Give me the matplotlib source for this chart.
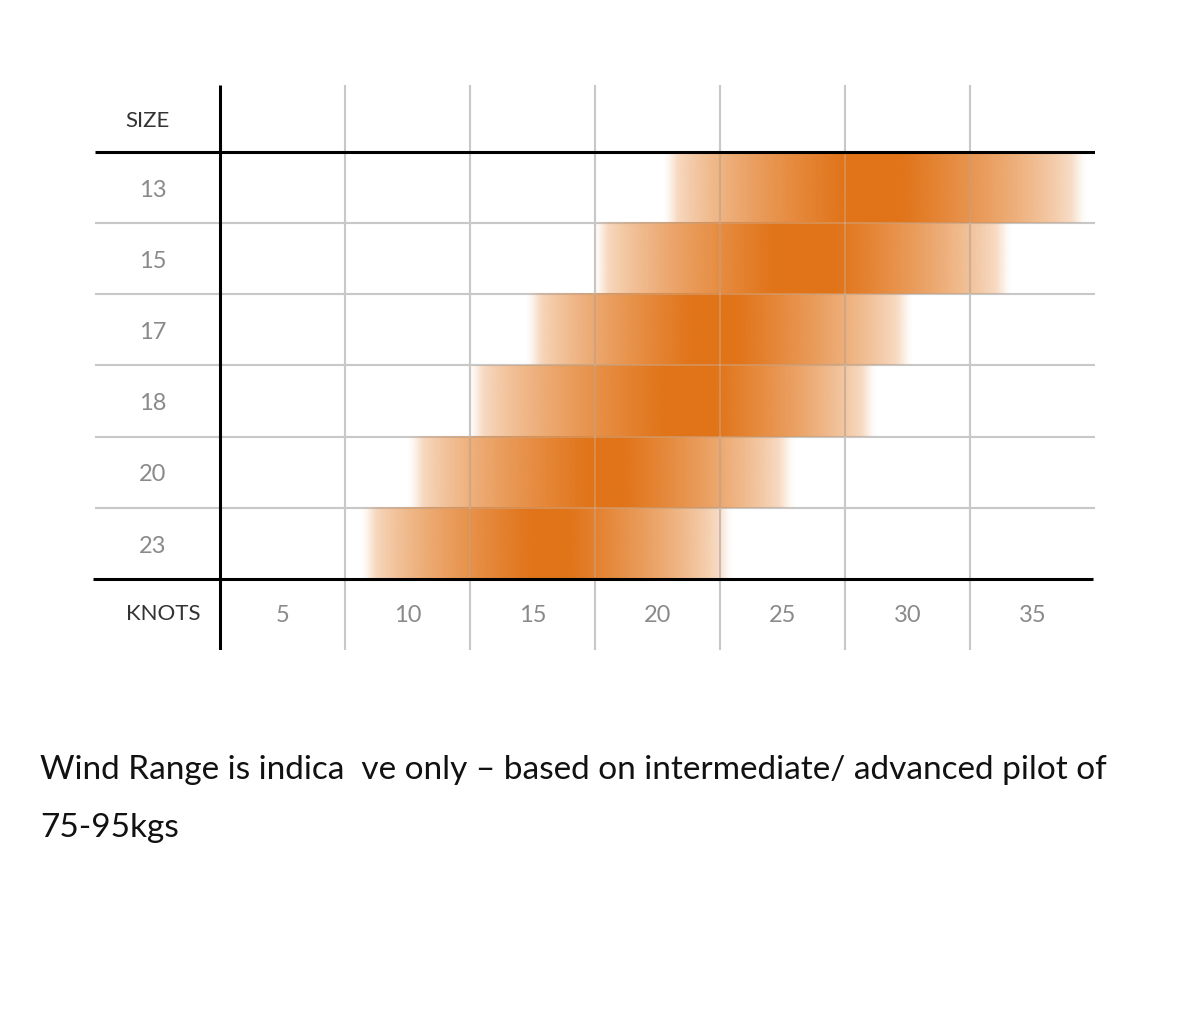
import numpy as np
import matplotlib
matplotlib.use('Agg')
import matplotlib.pyplot as plt
from matplotlib.colors import to_rgb

# ---- data ----
sizes = ['13', '15', '17', '18', '20', '23']
knot_labels = ['5', '10', '15', '20', '25', '30', '35']
knot_values = [5, 10, 15, 20, 25, 30, 35]
range_start = [20.1, 17.3, 14.6, 12.3, 9.9, 8.0]
full_from = [27.4, 24.6, 21.3, 20.2, 17.2, 14.9]
full_to = [29.8, 27.2, 23.2, 22.4, 18.7, 16.5]
range_end = [37.3, 34.3, 30.3, 28.9, 25.6, 23.1]
caption_1 = "Wind Range is indica  ve only \u2013 based on intermediate/ advanced pilot of"
caption_2 = "75-95kgs"

plt.rcParams['font.family'] = ['Lato', 'DejaVu Sans']

W, H = 1186, 1010
fig = plt.figure(figsize=(W / 100, H / 100), dpi=100)
ax = fig.add_axes([95 / W, 1 - 650 / H, 1000 / W, 565 / H])


def smooth(u):
    u = np.clip(u, 0, 1)
    return u * u * (3 - 2 * u)


orange = np.array(to_rgb('#E17419'))
edge = 0.8  # soft edge width in knots
for i, (s, f0, f1, e) in enumerate(zip(range_start, full_from, full_to, range_end)):
    xs = np.linspace(s, e, 800)
    a = np.ones_like(xs)
    up = xs < f0
    a[up] = ((xs[up] - s) / (f0 - s)) ** 0.55
    dn = xs > f1
    a[dn] = ((e - xs[dn]) / (e - f1)) ** 0.6
    a *= smooth((xs - s) / edge) * smooth((e - xs) / edge)
    rgba = np.zeros((2, len(xs), 4))
    rgba[..., :3] = orange
    rgba[..., 3] = a[None, :]
    ax.imshow(rgba, extent=[s, e, i + 1, i], aspect='auto',
              interpolation='bilinear', zorder=1)

ytop, ybot = -0.94, 7
boundaries = [7.5, 12.5, 17.5, 22.5, 27.5, 32.5]
grey = '#c8c8c8'
ax.vlines(boundaries, ytop, ybot, color=grey, lw=1.5, zorder=0)
ax.vlines(boundaries, ytop, ybot, color=grey, lw=1.5, alpha=0.3, zorder=3)
ax.hlines([1, 2, 3, 4, 5], -2.5, 37.5, color=grey, lw=1.5, zorder=0)
ax.hlines([1, 2, 3, 4, 5], -2.5, 37.5, color=grey, lw=1.5, alpha=0.3, zorder=3)
ax.hlines([0], -2.5, 37.5, color='black', lw=2.2, zorder=4)
ax.hlines([6], -2.6, 37.4, color='black', lw=2.2, zorder=4, clip_on=False)
ax.vlines([2.5], ytop, ybot, color='black', lw=2.2, zorder=4)

ax.text(-0.4, -0.43, 'SIZE', ha='center', va='center', fontsize=16, color='#333333')
ax.text(0.25, 6.5, 'KNOTS', ha='center', va='center', fontsize=16, color='#333333')
for i, s in enumerate(sizes):
    ax.text(-0.2, i + 0.54, s, ha='center', va='center', fontsize=17, color='#8a8a8a')
for k, lab in zip(knot_values, knot_labels):
    ax.text(k, 6.52, lab, ha='center', va='center', fontsize=17, color='#8a8a8a')

ax.set_xlim(-2.5, 37.5)
ax.set_ylim(ybot, ytop)
ax.axis('off')

fig.text(40 / W, 1 - 770 / H, caption_1, ha='left', va='center', fontsize=24, color='#111111')
fig.text(40 / W, 1 - 828 / H, caption_2, ha='left', va='center', fontsize=24, color='#111111')

fig.savefig('out.png', dpi=100, facecolor='white')
